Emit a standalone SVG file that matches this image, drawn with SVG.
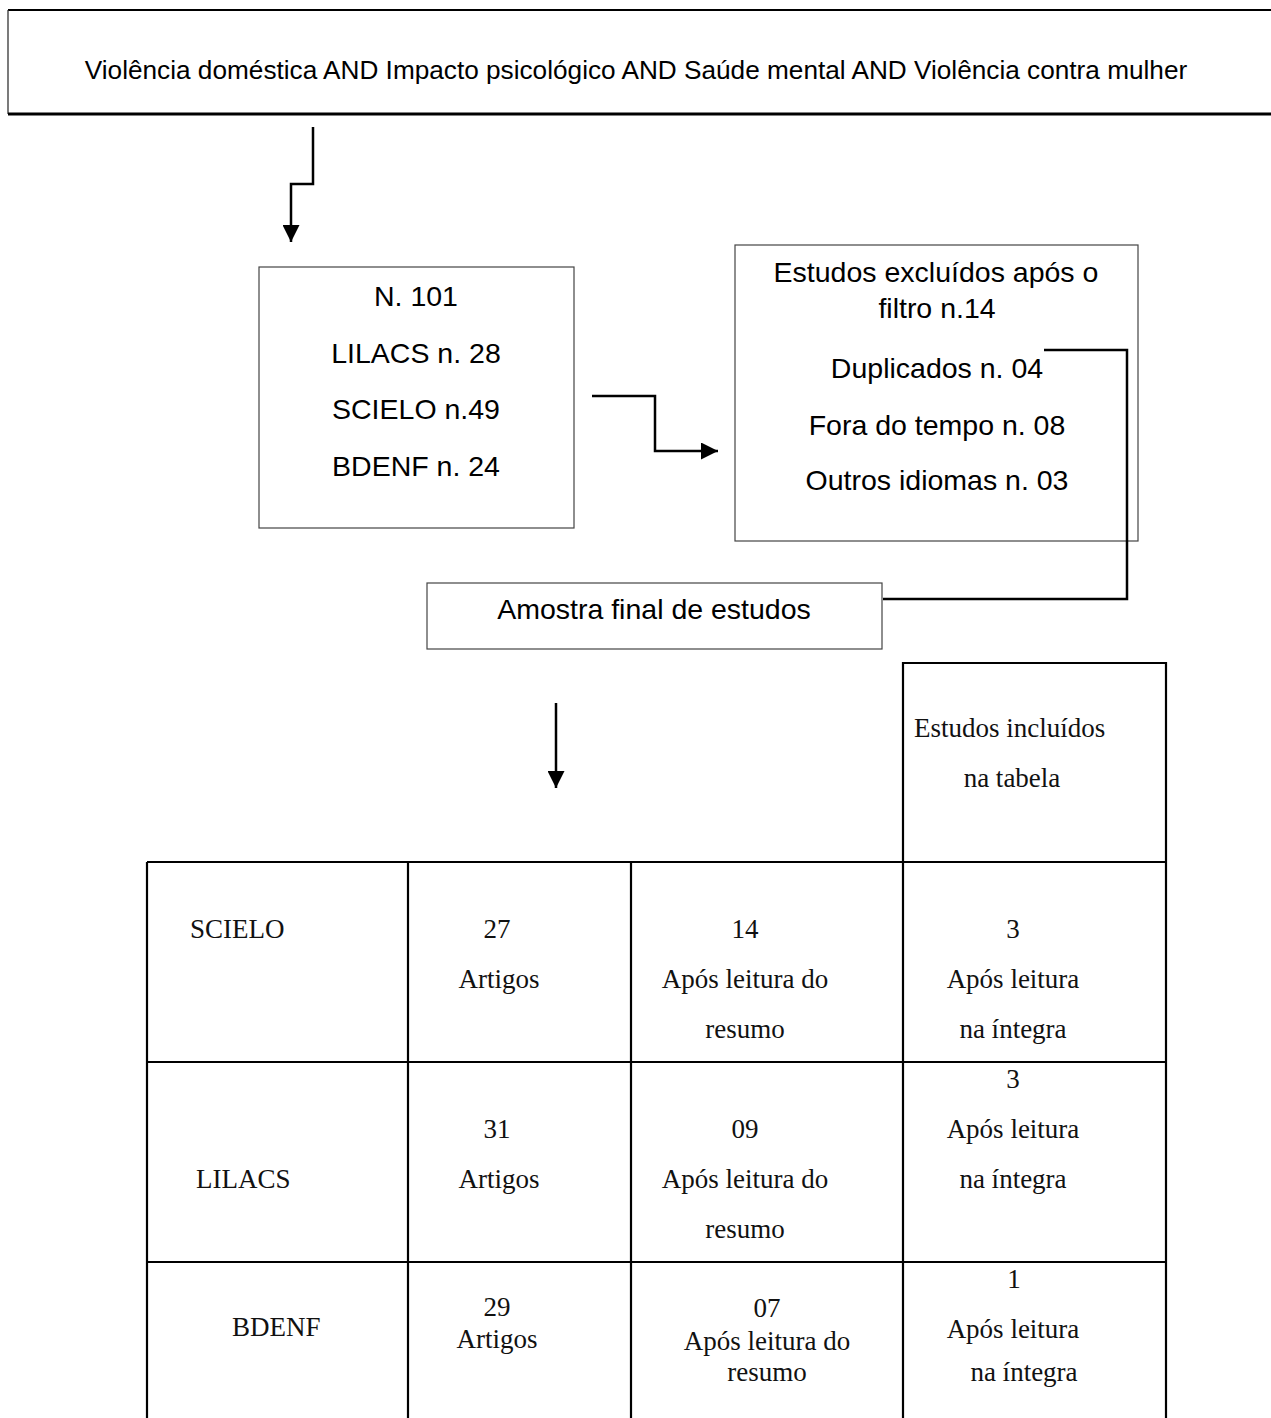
<svg xmlns="http://www.w3.org/2000/svg" width="1271" height="1418" viewBox="0 0 1271 1418">
<style>
.box{fill:#fff;stroke:#444;stroke-width:1.2}
.sans{font-family:"Liberation Sans",Arial,sans-serif;font-size:28.5px;fill:#000;text-anchor:middle}
.serif{font-family:"Liberation Serif","Times New Roman",serif;font-size:27px;fill:#111;text-anchor:middle}
.conn{fill:none;stroke:#000;stroke-width:2.5}
.grid{fill:none;stroke:#000;stroke-width:2.2}
</style>
<defs>
<marker id="arr" markerUnits="userSpaceOnUse" markerWidth="17" markerHeight="17" viewBox="0 0 17 17" refX="17" refY="8.5" orient="auto">
<path d="M0,0 L17,8.5 L0,17 Z" fill="#000"/>
</marker>
</defs>
<rect width="1271" height="1418" fill="#fff"/>

<g id="node-query">
<rect x="8" y="10" width="1280" height="104" fill="#fff" stroke="none"/>
<line x1="8" y1="10" x2="1271" y2="10" stroke="#000" stroke-width="2"/>
<line x1="8" y1="10" x2="8" y2="114" stroke="#333" stroke-width="1.3"/>
<line x1="8" y1="114" x2="1271" y2="114" stroke="#000" stroke-width="3"/>
<text class="sans" x="636" y="79" style="font-size:26.2px">Violência doméstica AND Impacto psicológico AND Saúde mental AND Violência contra mulher</text>
</g>

<g id="node-n101">
<rect class="box" x="259" y="267" width="315" height="261"/>
<text class="sans" x="416" y="306">N. 101</text>
<text class="sans" x="416" y="363">LILACS n. 28</text>
<text class="sans" x="416" y="419">SCIELO n.49</text>
<text class="sans" x="416" y="476">BDENF n. 24</text>
</g>

<g id="node-excluded">
<rect class="box" x="735" y="245" width="403" height="296"/>
<text class="sans" x="936" y="282">Estudos excluídos após o</text>
<text class="sans" x="937" y="318">filtro n.14</text>
<text class="sans" x="937" y="378">Duplicados n. 04</text>
<text class="sans" x="937" y="435">Fora do tempo n. 08</text>
<text class="sans" x="937" y="490">Outros idiomas n. 03</text>
</g>

<g id="node-amostra">
<rect class="box" x="427" y="583" width="455" height="66"/>
<text class="sans" x="654" y="619">Amostra final de estudos</text>
</g>

<g id="connectors">
<polyline class="conn" points="313,127 313,184 291,184 291,242" marker-end="url(#arr)"/>
<polyline class="conn" points="592,396 655,396 655,451 718,451" marker-end="url(#arr)"/>
<polyline class="conn" points="1044,350 1127,350 1127,599 883,599"/>
<line class="conn" x1="556" y1="703" x2="556" y2="788" marker-end="url(#arr)"/>
</g>

<g id="table">
<g class="grid">
<polyline points="903,862 903,663 1166,663 1166,862"/>
<line x1="147" y1="862" x2="1166" y2="862"/>
<line x1="147" y1="1062" x2="1166" y2="1062"/>
<line x1="147" y1="1262" x2="1166" y2="1262"/>
<line x1="147" y1="862" x2="147" y2="1418"/>
<line x1="408" y1="862" x2="408" y2="1418"/>
<line x1="631" y1="862" x2="631" y2="1418"/>
<line x1="903" y1="862" x2="903" y2="1418"/>
<line x1="1166" y1="862" x2="1166" y2="1418"/>
</g>
<text class="serif" x="914" y="737" style="text-anchor:start">Estudos incluídos</text>
<text class="serif" x="1012" y="787">na tabela</text>

<text class="serif" x="190" y="938" style="text-anchor:start">SCIELO</text>
<text class="serif" x="497" y="938">27</text>
<text class="serif" x="499" y="988">Artigos</text>
<text class="serif" x="745" y="938">14</text>
<text class="serif" x="745" y="988">Após leitura do</text>
<text class="serif" x="745" y="1038">resumo</text>
<text class="serif" x="1013" y="938">3</text>
<text class="serif" x="1013" y="988">Após leitura</text>
<text class="serif" x="1013" y="1038">na íntegra</text>

<text class="serif" x="1013" y="1088">3</text>
<text class="serif" x="497" y="1138">31</text>
<text class="serif" x="745" y="1138">09</text>
<text class="serif" x="1013" y="1138">Após leitura</text>
<text class="serif" x="196" y="1188" style="text-anchor:start">LILACS</text>
<text class="serif" x="499" y="1188">Artigos</text>
<text class="serif" x="745" y="1188">Após leitura do</text>
<text class="serif" x="1013" y="1188">na íntegra</text>
<text class="serif" x="745" y="1238">resumo</text>

<text class="serif" x="1014" y="1288">1</text>
<text class="serif" x="497" y="1316">29</text>
<text class="serif" x="767" y="1317">07</text>
<text class="serif" x="232" y="1336" style="text-anchor:start">BDENF</text>
<text class="serif" x="497" y="1348">Artigos</text>
<text class="serif" x="767" y="1350">Após leitura do</text>
<text class="serif" x="767" y="1381">resumo</text>
<text class="serif" x="1013" y="1338">Após leitura</text>
<text class="serif" x="1024" y="1381">na íntegra</text>
</g>
</svg>
